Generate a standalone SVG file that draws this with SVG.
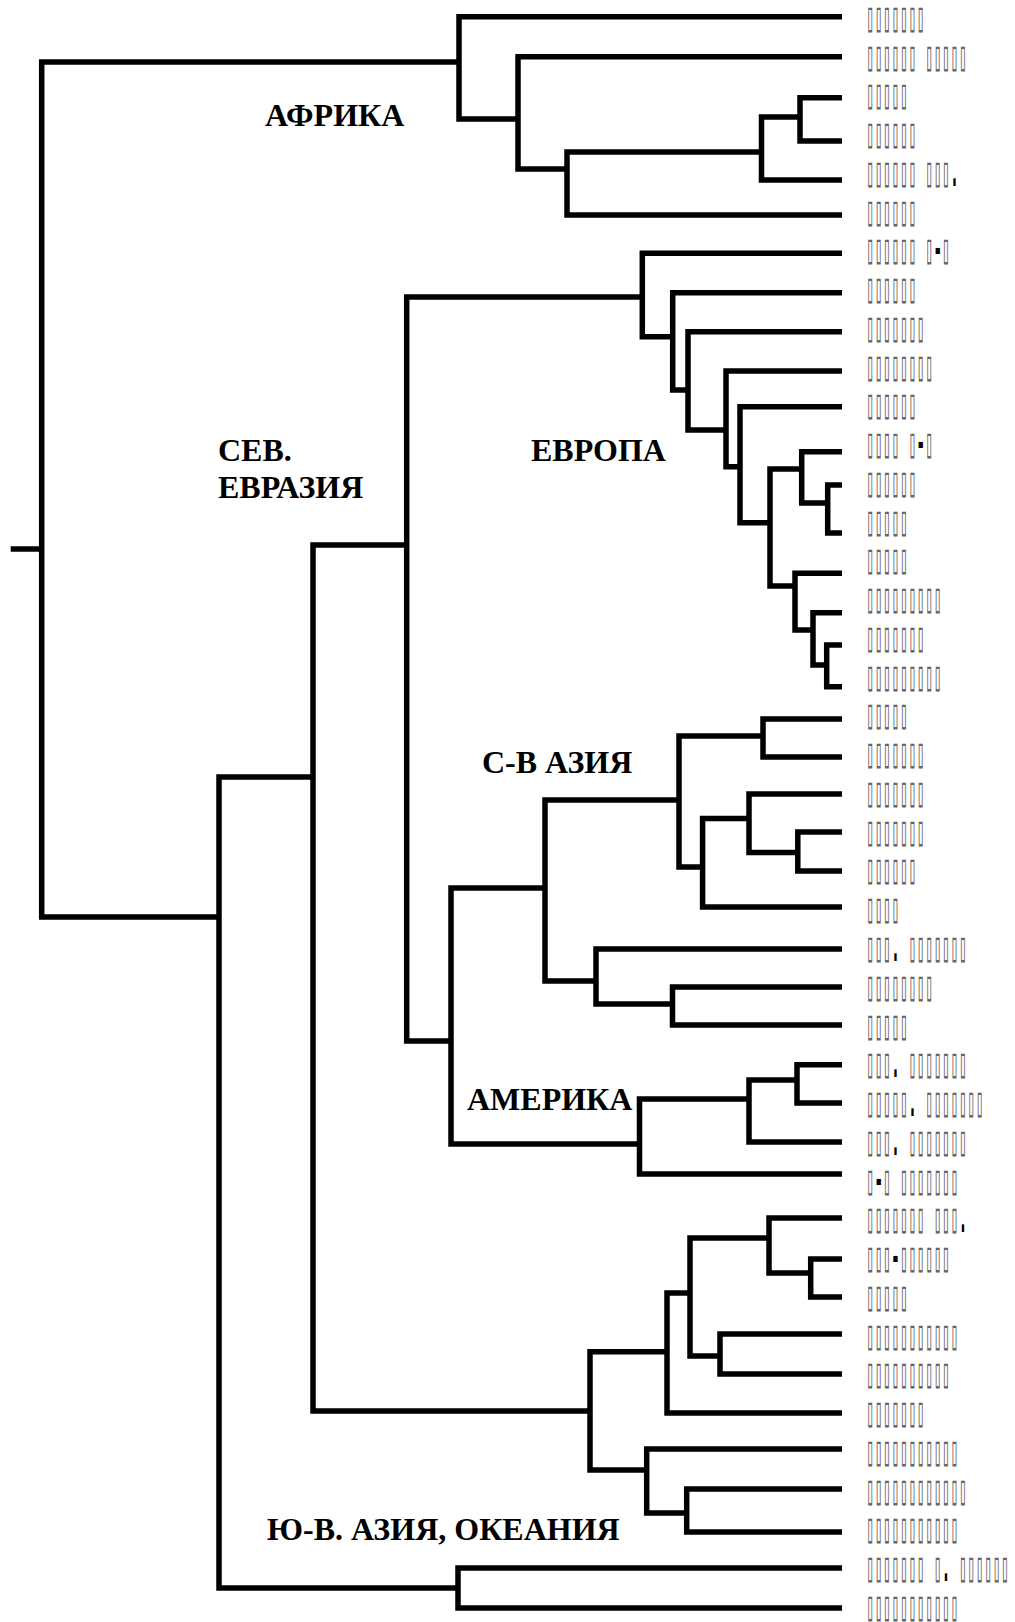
<svg xmlns="http://www.w3.org/2000/svg" width="1015" height="1622" viewBox="0 0 1015 1622">
<style>
.ln{fill:none;stroke:#000;stroke-width:5.5;stroke-linejoin:miter;stroke-linecap:butt}
.leaf{font-family:"DejaVu Sans Mono","Liberation Mono",monospace;font-size:14px;fill:#666}
.p{fill:#000;font-weight:bold}
.clade{font-family:"Liberation Serif","Times New Roman",serif;font-weight:bold;font-size:32px;fill:#000}
</style>
<rect width="1015" height="1622" fill="#fff"/>
<g id="connectors" class="ln">
<path d="M10.7 549 H41.7"/>
<path d="M459 62 H41.7 V917 H219"/>
<path d="M842 16.7 H459 V119 H518"/>
<path d="M842 56.7 H518 V169 H567"/>
<path d="M761.5 152 H567 V215 H842"/>
<path d="M800 117 H761.5 V180 H842"/>
<path d="M842 97.7 H800 V141 H842"/>
<path d="M313 777 H219 V1588 H458"/>
<path d="M842 1568 H458 V1608 H842"/>
<path d="M406.7 545 H313 V1411 H590"/>
<path d="M642.3 297 H406.7 V1041 H451"/>
<path d="M842 253.3 H642.3 V336.7 H672.7"/>
<path d="M842 292.7 H672.7 V390 H688"/>
<path d="M842 331.7 H688 V430 H726"/>
<path d="M842 371 H726 V466.7 H740"/>
<path d="M842 406.7 H740 V522.7 H770"/>
<path d="M801.7 469 H770 V586 H795"/>
<path d="M842 451.7 H801.7 V503 H827.7"/>
<path d="M842 485 H827.7 V533 H842"/>
<path d="M842 573.3 H795 V630 H813"/>
<path d="M842 612.7 H813 V665 H826.7"/>
<path d="M842 645 H826.7 V686.7 H842"/>
<path d="M545 888 H451 V1144 H639.5"/>
<path d="M679 800 H545 V981 H596"/>
<path d="M763 736 H679 V867 H702.6"/>
<path d="M842 719 H763 V757 H842"/>
<path d="M749 818.5 H702.6 V907 H842"/>
<path d="M842 794 H749 V852.6 H797.8"/>
<path d="M842 832 H797.8 V871 H842"/>
<path d="M842 949 H596 V1004 H672.5"/>
<path d="M842 987 H672.5 V1025 H842"/>
<path d="M749 1099 H639.5 V1174 H842"/>
<path d="M797 1080 H749 V1142 H842"/>
<path d="M842 1064.7 H797 V1103 H842"/>
<path d="M667 1351.7 H590 V1470 H646.7"/>
<path d="M690 1293 H667 V1413 H842"/>
<path d="M769 1238 H690 V1356 H720"/>
<path d="M842 1218 H769 V1273 H810.7"/>
<path d="M842 1259 H810.7 V1297 H842"/>
<path d="M842 1334 H720 V1374 H842"/>
<path d="M842 1449 H646.7 V1513 H686.7"/>
<path d="M842 1489 H686.7 V1532 H842"/>
</g>
<g id="clade-labels">
<g id="clade-africa"><text class="clade" x="265" y="126">АФРИКА</text></g>
<g id="clade-north-eurasia"><text class="clade" x="218" y="461">СЕВ.</text><text class="clade" x="218" y="498">ЕВРАЗИЯ</text></g>
<g id="clade-europe"><text class="clade" x="531" y="461">ЕВРОПА</text></g>
<g id="clade-ne-asia"><text class="clade" x="482" y="773">С-В АЗИЯ</text></g>
<g id="clade-america"><text class="clade" x="467" y="1110">АМЕРИКА</text></g>
<g id="clade-se-asia"><text class="clade" x="267" y="1540">Ю-В. АЗИЯ, ОКЕАНИЯ</text></g>
</g>
<g id="leaves">
<g id="leaf-01"><text class="leaf" transform="matrix(1 0 0 3 866 30.7)">▯▯▯▯▯▯▯</text></g>
<g id="leaf-02"><text class="leaf" transform="matrix(1 0 0 3 866 69.5)">▯▯▯▯▯▯ ▯▯▯▯▯</text></g>
<g id="leaf-03"><text class="leaf" transform="matrix(1 0 0 3 866 108.2)">▯▯▯▯▯</text></g>
<g id="leaf-04"><text class="leaf" transform="matrix(1 0 0 3 866 147.0)">▯▯▯▯▯▯</text></g>
<g id="leaf-05"><text class="leaf" transform="matrix(1 0 0 3 866 185.7)">▯▯▯▯▯▯ ▯▯▯<tspan class="p">.</tspan></text></g>
<g id="leaf-06"><text class="leaf" transform="matrix(1 0 0 3 866 224.5)">▯▯▯▯▯▯</text></g>
<g id="leaf-07"><text class="leaf" transform="matrix(1 0 0 3 866 263.3)">▯▯▯▯▯▯ ▯<tspan class="p">-</tspan>▯</text></g>
<g id="leaf-08"><text class="leaf" transform="matrix(1 0 0 3 866 302.0)">▯▯▯▯▯▯</text></g>
<g id="leaf-09"><text class="leaf" transform="matrix(1 0 0 3 866 340.8)">▯▯▯▯▯▯▯</text></g>
<g id="leaf-10"><text class="leaf" transform="matrix(1 0 0 3 866 379.5)">▯▯▯▯▯▯▯▯</text></g>
<g id="leaf-11"><text class="leaf" transform="matrix(1 0 0 3 866 418.3)">▯▯▯▯▯▯</text></g>
<g id="leaf-12"><text class="leaf" transform="matrix(1 0 0 3 866 457.1)">▯▯▯▯ ▯<tspan class="p">-</tspan>▯</text></g>
<g id="leaf-13"><text class="leaf" transform="matrix(1 0 0 3 866 495.8)">▯▯▯▯▯▯</text></g>
<g id="leaf-14"><text class="leaf" transform="matrix(1 0 0 3 866 534.6)">▯▯▯▯▯</text></g>
<g id="leaf-15"><text class="leaf" transform="matrix(1 0 0 3 866 573.3)">▯▯▯▯▯</text></g>
<g id="leaf-16"><text class="leaf" transform="matrix(1 0 0 3 866 612.1)">▯▯▯▯▯▯▯▯▯</text></g>
<g id="leaf-17"><text class="leaf" transform="matrix(1 0 0 3 866 650.9)">▯▯▯▯▯▯▯</text></g>
<g id="leaf-18"><text class="leaf" transform="matrix(1 0 0 3 866 689.6)">▯▯▯▯▯▯▯▯▯</text></g>
<g id="leaf-19"><text class="leaf" transform="matrix(1 0 0 3 866 728.4)">▯▯▯▯▯</text></g>
<g id="leaf-20"><text class="leaf" transform="matrix(1 0 0 3 866 767.1)">▯▯▯▯▯▯▯</text></g>
<g id="leaf-21"><text class="leaf" transform="matrix(1 0 0 3 866 805.9)">▯▯▯▯▯▯▯</text></g>
<g id="leaf-22"><text class="leaf" transform="matrix(1 0 0 3 866 844.7)">▯▯▯▯▯▯▯</text></g>
<g id="leaf-23"><text class="leaf" transform="matrix(1 0 0 3 866 883.4)">▯▯▯▯▯▯</text></g>
<g id="leaf-24"><text class="leaf" transform="matrix(1 0 0 3 866 922.2)">▯▯▯▯</text></g>
<g id="leaf-25"><text class="leaf" transform="matrix(1 0 0 3 866 960.9)">▯▯▯<tspan class="p">.</tspan> ▯▯▯▯▯▯▯</text></g>
<g id="leaf-26"><text class="leaf" transform="matrix(1 0 0 3 866 999.7)">▯▯▯▯▯▯▯▯</text></g>
<g id="leaf-27"><text class="leaf" transform="matrix(1 0 0 3 866 1038.5)">▯▯▯▯▯</text></g>
<g id="leaf-28"><text class="leaf" transform="matrix(1 0 0 3 866 1077.2)">▯▯▯<tspan class="p">.</tspan> ▯▯▯▯▯▯▯</text></g>
<g id="leaf-29"><text class="leaf" transform="matrix(1 0 0 3 866 1116.0)">▯▯▯▯▯<tspan class="p">.</tspan> ▯▯▯▯▯▯▯</text></g>
<g id="leaf-30"><text class="leaf" transform="matrix(1 0 0 3 866 1154.7)">▯▯▯<tspan class="p">.</tspan> ▯▯▯▯▯▯▯</text></g>
<g id="leaf-31"><text class="leaf" transform="matrix(1 0 0 3 866 1193.5)">▯<tspan class="p">-</tspan>▯ ▯▯▯▯▯▯▯</text></g>
<g id="leaf-32"><text class="leaf" transform="matrix(1 0 0 3 866 1232.3)">▯▯▯▯▯▯▯ ▯▯▯<tspan class="p">.</tspan></text></g>
<g id="leaf-33"><text class="leaf" transform="matrix(1 0 0 3 866 1271.0)">▯▯▯<tspan class="p">-</tspan>▯▯▯▯▯▯</text></g>
<g id="leaf-34"><text class="leaf" transform="matrix(1 0 0 3 866 1309.8)">▯▯▯▯▯</text></g>
<g id="leaf-35"><text class="leaf" transform="matrix(1 0 0 3 866 1348.5)">▯▯▯▯▯▯▯▯▯▯▯</text></g>
<g id="leaf-36"><text class="leaf" transform="matrix(1 0 0 3 866 1387.3)">▯▯▯▯▯▯▯▯▯▯</text></g>
<g id="leaf-37"><text class="leaf" transform="matrix(1 0 0 3 866 1426.1)">▯▯▯▯▯▯▯</text></g>
<g id="leaf-38"><text class="leaf" transform="matrix(1 0 0 3 866 1464.8)">▯▯▯▯▯▯▯▯▯▯▯</text></g>
<g id="leaf-39"><text class="leaf" transform="matrix(1 0 0 3 866 1503.6)">▯▯▯▯▯▯▯▯▯▯▯▯</text></g>
<g id="leaf-40"><text class="leaf" transform="matrix(1 0 0 3 866 1542.3)">▯▯▯▯▯▯▯▯▯▯▯</text></g>
<g id="leaf-41"><text class="leaf" transform="matrix(1 0 0 3 866 1581.1)">▯▯▯▯▯▯▯ ▯<tspan class="p">.</tspan> ▯▯▯▯▯▯</text></g>
<g id="leaf-42"><text class="leaf" transform="matrix(1 0 0 3 866 1619.9)">▯▯▯▯▯▯▯▯▯▯▯</text></g>
</g>
</svg>
